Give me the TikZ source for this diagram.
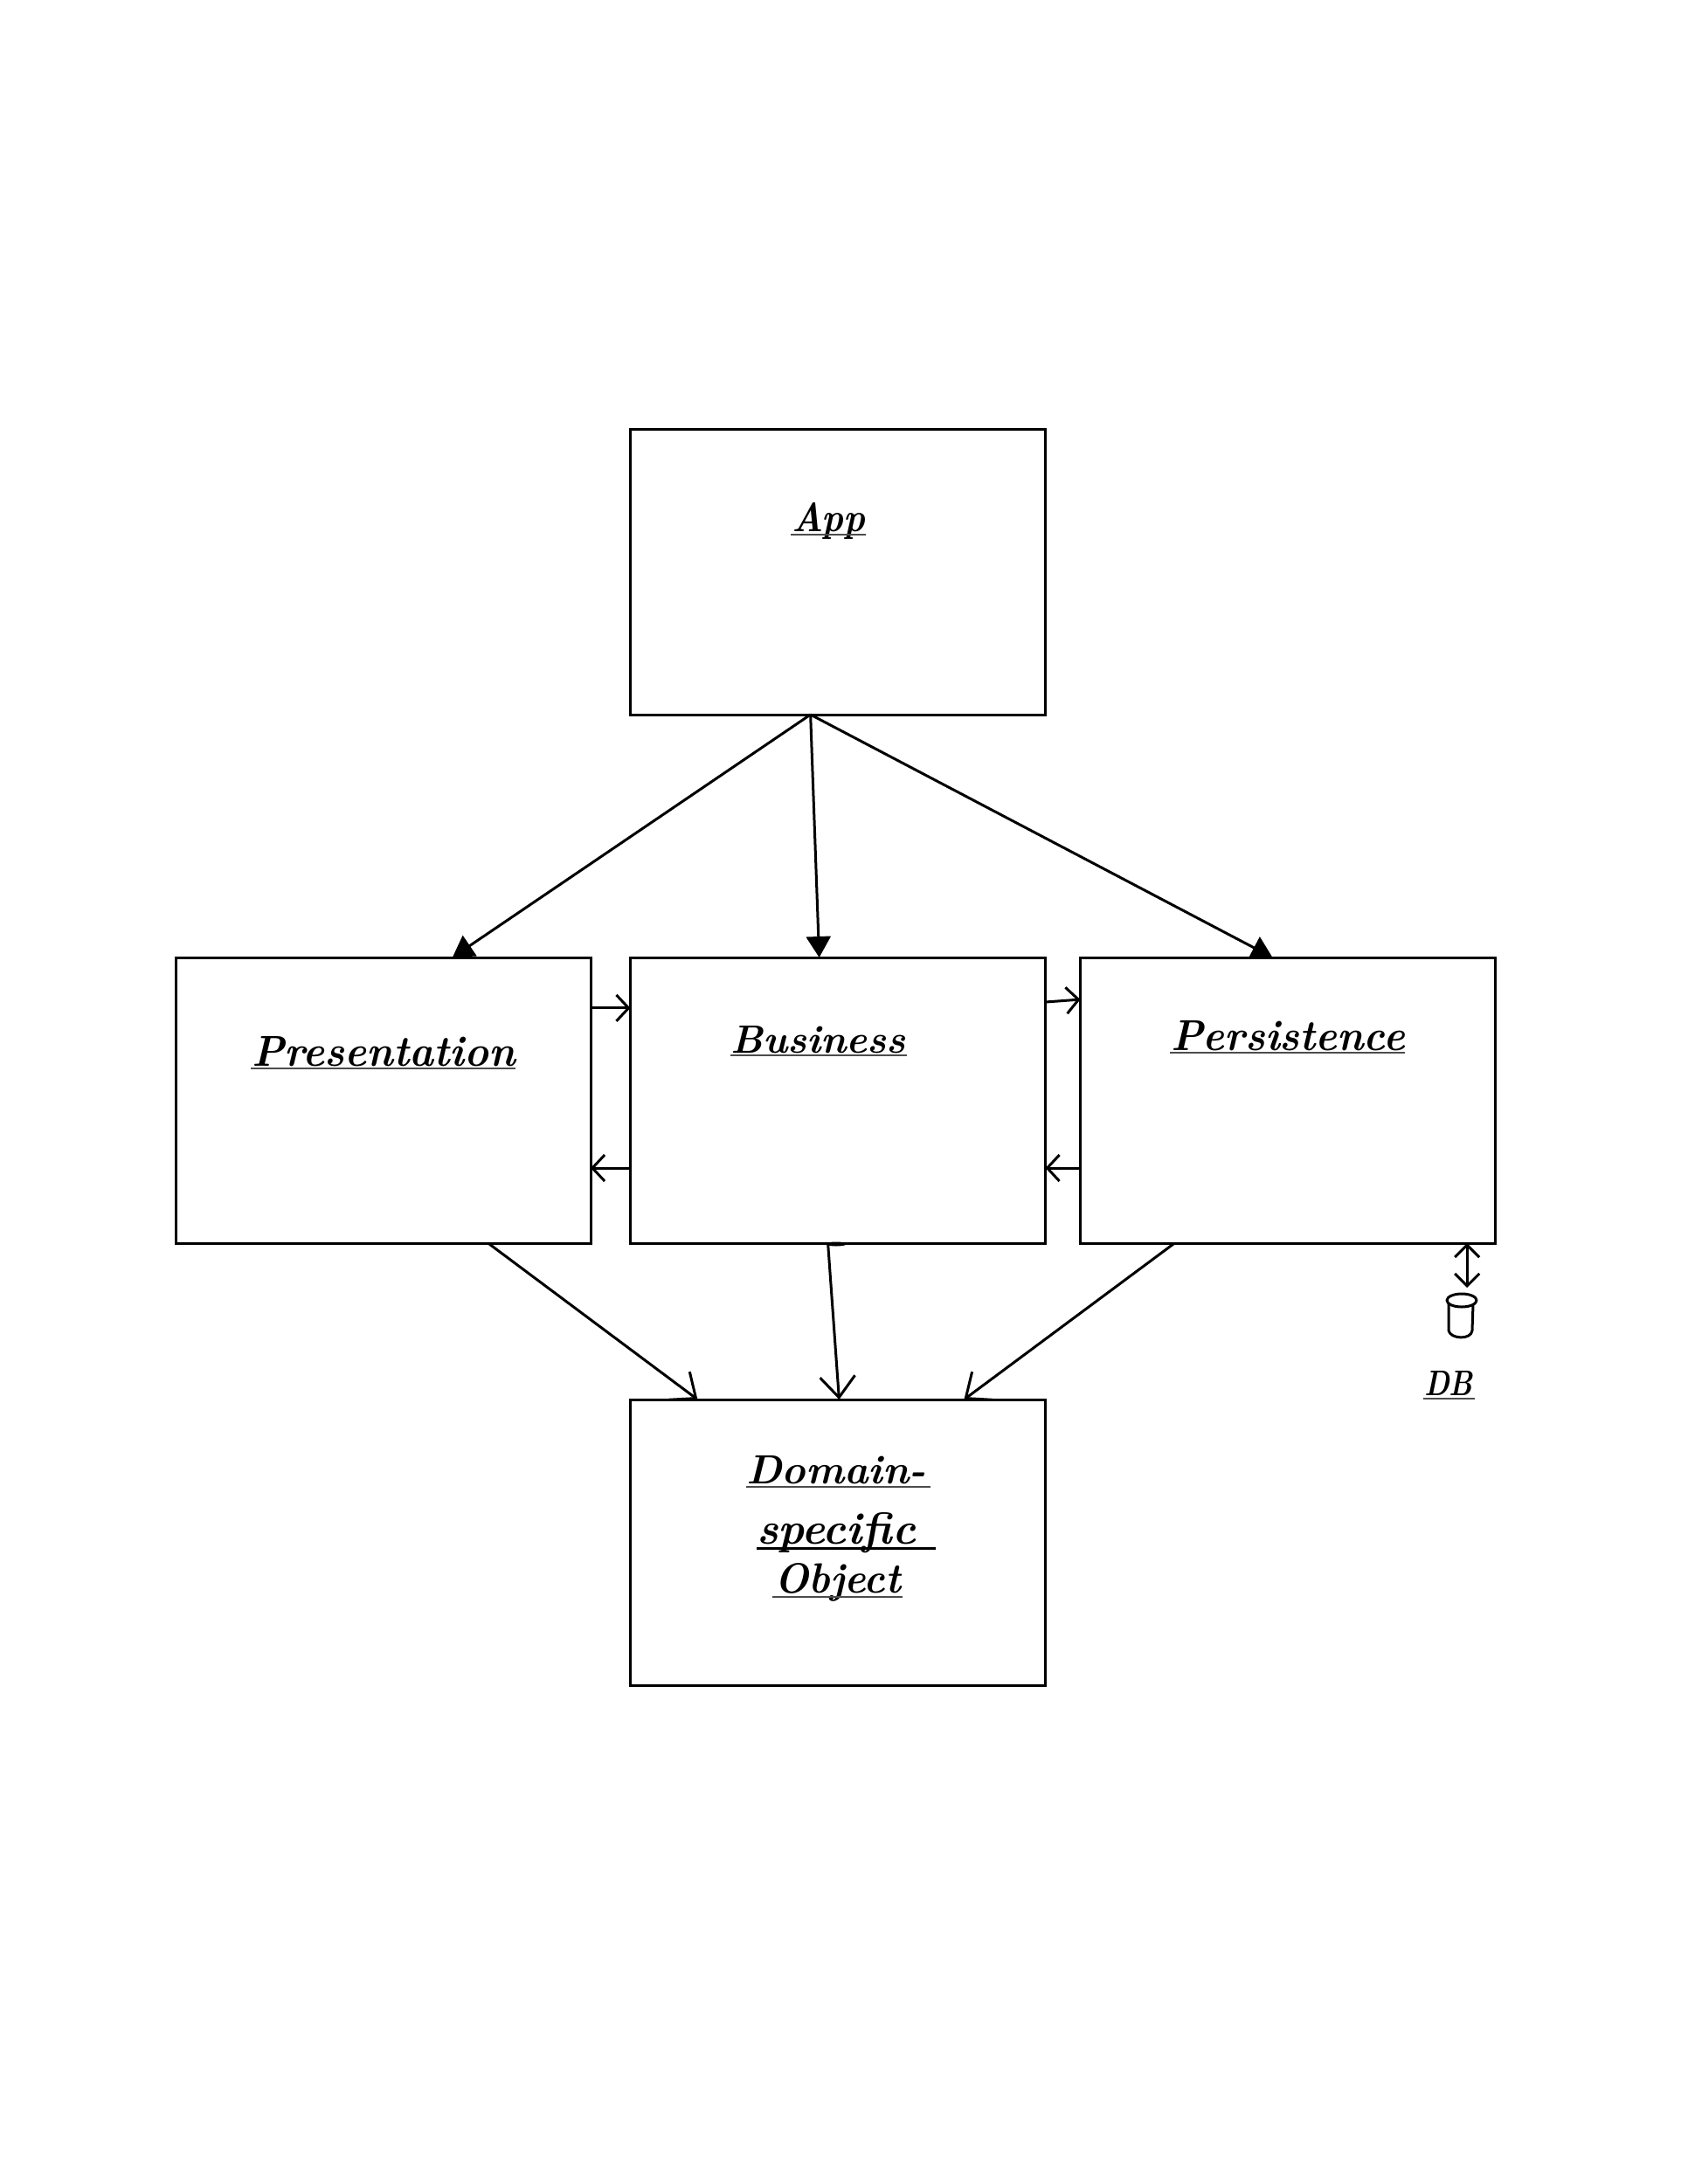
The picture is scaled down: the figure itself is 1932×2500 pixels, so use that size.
\documentclass[tikz,border=0pt]{standalone}
\usepackage{fontspec}
\usepackage{graphicx}
\usetikzlibrary{arrows.meta,calc}
\tikzset{
  layerbox/.style={draw=black,line width=3pt,fill=white,rectangle,minimum width=475pt,minimum height=327pt,inner sep=0pt,outer sep=0pt,anchor=north west},
  labeltext/.style={anchor=base west,inner sep=0pt,outer sep=0pt,font=\fontsize{46}{46}\selectfont\bfseries\itshape},
  ul/.style={line width=1.3pt,black!70},
  ulthick/.style={line width=3pt,black},
  solidlink/.style={line width=3pt,-{Triangle[length=24pt,width=28pt]}},
  openlink/.style={line width=3pt,-{Straight Barb[length=24pt,width=40pt,line width=3pt]}},
  sidelink/.style={line width=3pt,-{Straight Barb[length=14pt,width=30pt,line width=3pt]}},
  dblink/.style={line width=3pt,{Straight Barb[length=14pt,width=28pt,line width=3pt]}-{Straight Barb[length=14pt,width=28pt,line width=3pt]}},
  dbdraw/.style={draw=black,line width=3pt,line cap=round,line join=round}
}
\begin{document}
\begin{tikzpicture}[x=1pt,y=-1pt]
\useasboundingbox[fill=white] (0,0) rectangle (1932,2500);
% boxes
\node[layerbox] (app)  at (721.5,491) {};
\node[layerbox] (pres) at (201,1096) {};
\node[layerbox] (bus)  at (721.5,1096) {};
\node[layerbox] (pers) at (1236.5,1096) {};
\node[layerbox] (dom)  at (721.5,1602) {};
% database cylinder
\draw[dbdraw] (1673,1488.5) ellipse [x radius=17,y radius=7.5];
\draw[dbdraw] (1658,1493) -- (1658,1523) .. controls (1660,1533) and (1684,1534) .. (1685,1523) -- (1686,1493);
% labels
\node[labeltext] (lapp)  at (906,608) {\resizebox{84pt}{33pt}{App}};
\node[labeltext] (lpres) at (288,1220) {\resizebox{302pt}{34pt}{Presentation}};
\node[labeltext] (lbus)  at (836,1205) {\resizebox{201pt}{31pt}{Business}};
\node[labeltext] (lpers) at (1340,1202) {\resizebox{268pt}{34pt}{Persistence}};
\node[labeltext] (ldom)  at (854,1698) {\resizebox{206pt}{32pt}{Domain-}};
\node[labeltext] (lspec) at (866,1767) {\resizebox{182pt}{36pt}{specific}};
\node[labeltext] (lobj)  at (886,1823) {\resizebox{145pt}{34pt}{Object}};
\node[labeltext] (ldb)   at (1630,1597) {\resizebox{56pt}{28pt}{DB}};
% underlines
\draw[ul] (905,612) -- (991,612);
\draw[ul] (287,1223) -- (590,1223);
\draw[ul] (836,1208) -- (1038,1208);
\draw[ul] (1339,1205) -- (1608,1205);
\draw[ul] (854,1702) -- (1065,1702);
\draw[ulthick] (866,1772) -- (1071,1772);
\draw[ul] (884,1828) -- (1033,1828);
\draw[ul] (1629,1601) -- (1688,1601);
% connectors from App
\coordinate (appout) at ($(app.south west)!.434!(app.south east)$);
\draw[solidlink] (appout) -- ($(pres.north west)!.667!(pres.north east)$);
\draw[solidlink] (appout) -- ($(bus.north west)!.455!(bus.north east)$);
\draw[solidlink] (appout) -- ($(pers.north west)!.463!(pers.north east)$);
% side links
\draw[sidelink] ($(pres.north east)!.177!(pres.south east)$) -- ($(bus.north west)!.177!(bus.south west)$);
\draw[sidelink] ($(bus.north west)!.737!(bus.south west)$) -- ($(pres.north east)!.737!(pres.south east)$);
\draw[sidelink] ($(bus.north east)!.156!(bus.south east)$) -- ($(pers.north west)!.147!(pers.south west)$);
\draw[sidelink] ($(pers.north west)!.737!(pers.south west)$) -- ($(bus.north east)!.737!(bus.south east)$);
% down to domain
\draw[openlink] ($(pres.south west)!.753!(pres.south east)$) -- ($(dom.north west)!.162!(dom.north east)$);
\draw[openlink] ($(bus.south west)!.476!(bus.south east)$) -- ($(dom.north west)!.503!(dom.north east)$);
\draw[openlink] ($(pers.south west)!.227!(pers.south east)$) -- ($(dom.north west)!.804!(dom.north east)$);
% small blob where the Business link leaves its box
\fill[black] (957,1424) ellipse [x radius=12,y radius=2.5];
% DB link
\coordinate (dbup) at ($(pers.south west)!.932!(pers.south east)$);
\coordinate (dbdown) at (dbup |- 0,1474);
\draw[dblink] (dbup) -- (dbdown);
\end{tikzpicture}
\end{document}
